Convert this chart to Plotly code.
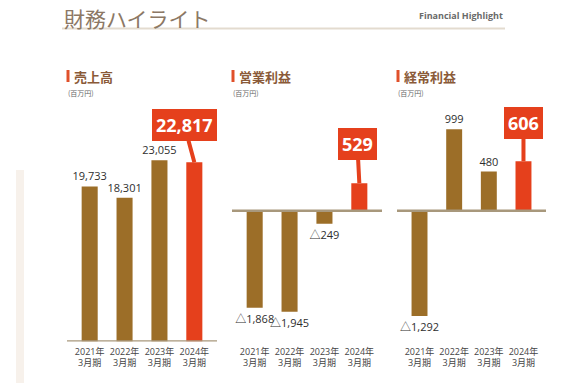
import plotly.graph_objects as go

W, H = 567, 383

# ---- data ----
periods = ["2021年<br>3月期", "2022年<br>3月期", "2023年<br>3月期", "2024年<br>3月期"]
sales = [19733, 18301, 23055, 22817]          # 売上高
op_income = [-1868, -1945, -249, 529]          # 営業利益
ord_income = [-1292, 999, 480, 606]            # 経常利益
panel_titles = ["売上高", "営業利益", "経常利益"]
unit_label = "(百万円)"
page_title = "財務ハイライト"
page_subtitle = "Financial Highlight"

BROWN = "#9c6e28"
RED = "#e5401c"
AXIS = "#a8987c"
FONT = "Open Sans, Noto Sans CJK JP, sans-serif"


def px_x(p):
    return p / W


def px_y(p):
    return 1 - p / H


def fmt(v):
    return f"△{abs(v):,}" if v < 0 else f"{v:,}"


fig = go.Figure()

series = [sales, op_income, ord_income]
xdomains = [(67, 217), (232, 382), (397, 546)]
zero_px = [341.5, 210.7, 210.7]
scale = [0.00786, 0.0520, 0.0815]   # px per unit
top_px, bottom_px = 100, 341.5
callout_offsets = [(-10, -37), (-2, -39), (0, -38)]

for i, vals in enumerate(series):
    xa = "x" if i == 0 else f"x{i+1}"
    ya = "y" if i == 0 else f"y{i+1}"
    colors = [BROWN] * (len(vals) - 1) + [RED]
    texts = [fmt(v) for v in vals[:-1]] + [""]
    fig.add_trace(go.Bar(
        x=periods, y=vals, xaxis=xa, yaxis=ya,
        marker=dict(color=colors, line=dict(width=0)),
        width=0.46,
        text=texts, textposition="outside", cliponaxis=False,
        constraintext="none",
        textfont=dict(family=FONT, size=11, color="#2e2e2e"),
        showlegend=False, hoverinfo="skip",
    ))
    rng_top = (zero_px[i] - top_px) / scale[i]
    rng_bot = -(bottom_px - zero_px[i]) / scale[i]
    suffix = "" if i == 0 else str(i + 1)
    fig.layout["xaxis" + suffix] = dict(
        domain=[px_x(xdomains[i][0]), px_x(xdomains[i][1])],
        anchor=ya, range=[-0.65, 3.65], showgrid=False, zeroline=False,
        showline=False, ticks="", ticklabelstandoff=3,
        tickfont=dict(family=FONT, size=9, color="#444444"),
        fixedrange=True,
    )
    fig.layout["yaxis" + suffix] = dict(
        domain=[px_y(bottom_px), px_y(top_px)], anchor=xa,
        range=[rng_bot, rng_top], visible=False, fixedrange=True,
    )
    # baseline
    fig.add_shape(type="line", xref=f"{xa} domain", yref=ya,
                  x0=0, x1=1, y0=0, y1=0, line=dict(color=AXIS, width=2.5), layer="above")
    # callout on latest value
    ax, ay = callout_offsets[i]
    fig.add_annotation(
        x=periods[-1], y=vals[-1], xref=xa, yref=ya,
        text=f"<b>{vals[-1]:,}</b>", showarrow=True, arrowhead=0,
        arrowwidth=4, arrowcolor=RED, ax=ax, ay=ay, standoff=0,
        bgcolor=RED, bordercolor=RED, borderpad=3,
        font=dict(family=FONT, size=18, color="white"),
    )
    # panel heading
    hx = xdomains[i][0]
    fig.add_shape(type="rect", xref="paper", yref="paper",
                  x0=px_x(hx - 0.5), x1=px_x(hx + 2.5), y0=px_y(82), y1=px_y(70),
                  fillcolor="#e0502a", line=dict(width=0))
    fig.add_annotation(x=px_x(hx + 5), y=px_y(76.5), xref="paper", yref="paper",
                       text=f"<b>{panel_titles[i]}</b>", showarrow=False,
                       xanchor="left", yanchor="middle",
                       font=dict(family="Noto Sans CJK JP", size=13, color="#8a5a38"))
    fig.add_annotation(x=px_x(hx - 1), y=px_y(93), xref="paper", yref="paper",
                       text=unit_label, showarrow=False, xanchor="left", yanchor="middle",
                       font=dict(family="Noto Sans CJK JP", size=7, color="#666666"))

# page title and rule
fig.add_annotation(x=px_x(62), y=px_y(18), xref="paper", yref="paper",
                   text=page_title, showarrow=False, xanchor="left", yanchor="middle",
                   font=dict(family="Noto Sans CJK JP", size=21, color="#8c7865"))
fig.add_annotation(x=px_x(505), y=px_y(16), xref="paper", yref="paper",
                   text=f"<b>{page_subtitle}</b>", showarrow=False, xanchor="right",
                   yanchor="middle", font=dict(family=FONT, size=9, color="#6a6a6a"))
fig.add_shape(type="line", xref="paper", yref="paper", x0=px_x(62), x1=px_x(505),
              y0=px_y(28.5), y1=px_y(28.5), line=dict(color="#e3dbcf", width=2))
# faint decorative strip on the left
fig.add_shape(type="rect", xref="paper", yref="paper", x0=px_x(16), x1=px_x(24),
              y0=0, y1=px_y(170), fillcolor="rgba(225,200,175,0.25)", line=dict(width=0),
              layer="below")

fig.update_layout(
    width=W, height=H, margin=dict(l=0, r=0, t=0, b=0),
    paper_bgcolor="white", plot_bgcolor="white", bargap=0.5,
    font=dict(family=FONT),
)

fig.write_html("out.html", config={"displayModeBar": False},
               post_script="document.body.style.margin='0';")
